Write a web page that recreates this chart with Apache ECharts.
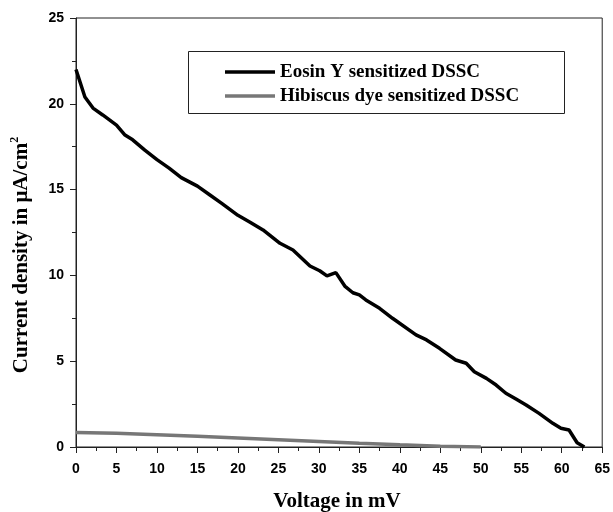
<!DOCTYPE html>
<html>
<head>
<meta charset="utf-8">
<script src="https://cdn.jsdelivr.net/npm/echarts@6/dist/echarts.min.js"></script>
<style>
  html, body { margin: 0; padding: 0; background: #fff; }
  #chart { width: 613px; height: 512px; }
</style>
</head>
<body>
<div id="chart"></div>
<script>
// Eosin Y curve (voltage in mV, current density in uA/cm2)
const eosinV = [0, 1.1, 2.1, 3.3, 5.0, 6.0, 7.0, 8.5, 10, 11.5, 13, 15, 16.5, 18, 20, 21.5, 23.1, 25.2, 26.8, 28.9, 30.1, 31.0, 32.1, 33.2, 34.2, 35.0, 35.8, 37.5, 39.1, 42.0, 43.3, 44.9, 46.9, 48.2, 49.2, 50.7, 51.9, 53.1, 54.4, 55.6, 57.2, 58.9, 59.9, 60.9, 61.9, 62.8]
const eosinJ = [22.0, 20.4, 19.75, 19.35, 18.76, 18.2, 17.9, 17.3, 16.75, 16.25, 15.7, 15.2, 14.7, 14.2, 13.5, 13.1, 12.65, 11.87, 11.48, 10.55, 10.27, 9.97, 10.16, 9.38, 8.99, 8.86, 8.57, 8.08, 7.5, 6.53, 6.24, 5.75, 5.07, 4.88, 4.39, 4.0, 3.61, 3.13, 2.78, 2.45, 1.96, 1.38, 1.09, 0.99, 0.25, 0.0]
// Hibiscus curve
const hibiscusV = [0, 5, 10, 15, 20, 25, 30, 35, 40, 45, 50]
const hibiscusJ = [0.84, 0.8, 0.71, 0.62, 0.52, 0.42, 0.32, 0.22, 0.13, 0.05, 0]

const seriesNames = ['Eosin Y sensitized DSSC', 'Hibiscus dye sensitized DSSC']
const xTicks = { min: 0, max: 65, step: 5 }
const yTicks = { min: 0, max: 25, step: 5 }

const zip = (a, b) => a.map((v, i) => [v, b[i]])

const tickFont = { color: '#000', fontFamily: 'Liberation Sans', fontWeight: 'bold', fontSize: 14 }
const frame = { show: true, lineStyle: { color: '#222', width: 1 } }

let myChart = echarts.init(document.getElementById('chart'))
let option = {
    animation: false,
    grid: { left: 76, top: 18, right: 10, bottom: 65, show: true, borderColor: '#222', borderWidth: 1 },
    legend: {
        left: 225,
        top: 60,
        orient: 'vertical',
        padding: 0,
        itemGap: 0,
        icon: 'rect',
        itemWidth: 50,
        itemHeight: 3.5,
        data: seriesNames,
        textStyle: { fontFamily: 'Liberation Serif', fontWeight: 'bold', fontSize: 19, color: '#000', lineHeight: 24 }
    },
    xAxis: {
        type: 'value',
        min: xTicks.min,
        max: xTicks.max,
        interval: xTicks.step,
        axisLine: frame,
        axisTick: { show: true, length: 6, lineStyle: { color: '#222' } },
        minorTick: { show: true, splitNumber: 2, length: 4, lineStyle: { color: '#222' } },
        splitLine: { show: false },
        axisLabel: Object.assign({ margin: 15 }, tickFont)
    },
    yAxis: {
        type: 'value',
        min: yTicks.min,
        max: yTicks.max,
        interval: yTicks.step,
        axisLine: frame,
        axisTick: { show: true, length: 6, lineStyle: { color: '#222' } },
        minorTick: { show: true, splitNumber: 2, length: 4, lineStyle: { color: '#222' } },
        splitLine: { show: false },
        axisLabel: Object.assign({ margin: 12 }, tickFont)
    },
    graphic: [
        {
            type: 'rect',
            shape: { x: 188.5, y: 51.5, width: 376, height: 62 },
            style: { fill: 'none', stroke: '#222', lineWidth: 1 }
        },
        {
            type: 'text',
            x: 337, y: 502,
            style: {
                text: 'Voltage in mV',
                font: 'bold 21px "Liberation Serif"',
                fill: '#000',
                align: 'center',
                verticalAlign: 'middle'
            }
        },
        {
            type: 'text',
            x: 22, y: 255,
            rotation: Math.PI / 2,
            style: {
                text: '{t|Current density in μA/cm}{s|2}',
                align: 'center',
                verticalAlign: 'middle',
                fill: '#000',
                rich: {
                    t: { font: 'bold 21px "Liberation Serif"', fill: '#000' },
                    s: { font: 'bold 12px "Liberation Serif"', fill: '#000', padding: [0, 0, 14, 0] }
                }
            }
        }
    ],
    series: [
        {
            name: seriesNames[0],
            type: 'line',
            symbol: 'none',
            data: zip(eosinV, eosinJ),
            lineStyle: { color: '#000', width: 3.5 },
            itemStyle: { color: '#000' },
            z: 3
        },
        {
            name: seriesNames[1],
            type: 'line',
            symbol: 'none',
            data: zip(hibiscusV, hibiscusJ),
            lineStyle: { color: '#777', width: 3.5 },
            itemStyle: { color: '#777' },
            z: 2
        }
    ]
}
myChart.setOption(option)
</script>
</body>
</html>
